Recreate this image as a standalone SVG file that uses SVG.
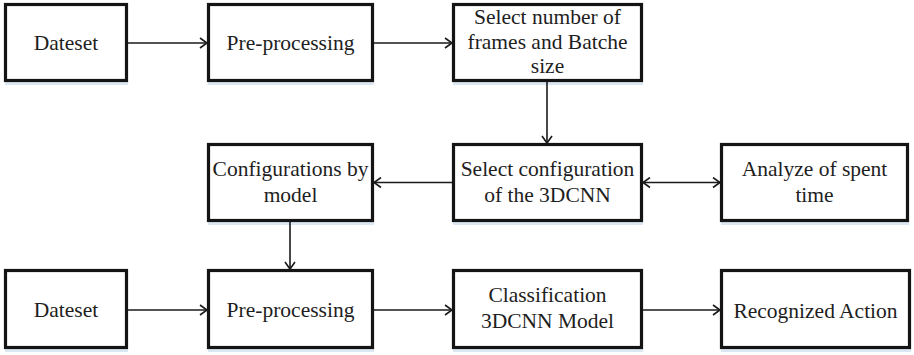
<svg xmlns="http://www.w3.org/2000/svg" width="914" height="355" viewBox="0 0 914 355">
  <style>
    .box { fill: #ffffff; stroke: #141414; stroke-width: 3.2; }
    .shadow { fill: #dbe7f2; stroke: none; }
    .label { font-family: "Liberation Serif", "Times New Roman", serif; font-size: 21.5px; fill: #1e1e1e; text-anchor: middle; }
    .edge { fill: none; stroke: #1a1a1a; stroke-width: 1.6; }
  </style>
  <defs>
    <marker id="arrow" markerUnits="userSpaceOnUse" markerWidth="12" markerHeight="12" viewBox="-10 -6 12 12" refX="0" refY="0" orient="auto-start-reverse">
      <path d="M-7,-5 L0,0 L-7,5" fill="none" stroke="#1a1a1a" stroke-width="1.6"/>
    </marker>
  </defs>
  <rect width="914" height="355" fill="#ffffff"/>

  <!-- Row 1 -->
  <g id="dataset-top">
    <rect class="shadow" x="5" y="81" width="123" height="4"/>
    <rect class="box" x="5.5" y="4.5" width="121" height="76"/>
    <text class="label" x="66" y="50">Dateset</text>
  </g>
  <g id="preprocessing-top">
    <rect class="shadow" x="208" y="81" width="166" height="4"/>
    <rect class="box" x="208.5" y="4.5" width="164" height="76"/>
    <text class="label" x="290.5" y="50">Pre-processing</text>
  </g>
  <g id="select-frames">
    <rect class="shadow" x="453" y="81" width="190" height="4"/>
    <rect class="box" x="453.5" y="4.5" width="188" height="76"/>
    <text class="label" x="547.5" y="24">Select number of</text>
    <text class="label" x="547.5" y="49">frames and Batche</text>
    <text class="label" x="547.5" y="73">size</text>
  </g>

  <!-- Row 2 -->
  <g id="configurations">
    <rect class="shadow" x="208" y="221" width="166" height="4"/>
    <rect class="box" x="208.5" y="144.5" width="164" height="76"/>
    <text class="label" x="290.5" y="176">Configurations by</text>
    <text class="label" x="290.5" y="202">model</text>
  </g>
  <g id="select-config">
    <rect class="shadow" x="453" y="221" width="190" height="4"/>
    <rect class="box" x="453.5" y="144.5" width="188" height="76"/>
    <text class="label" x="547.5" y="176">Select configuration</text>
    <text class="label" x="547.5" y="202">of the 3DCNN</text>
  </g>
  <g id="analyze-time">
    <rect class="shadow" x="721" y="221" width="188" height="4"/>
    <rect class="box" x="721.5" y="144.5" width="186" height="76"/>
    <text class="label" x="814.5" y="176">Analyze of spent</text>
    <text class="label" x="814.5" y="202">time</text>
  </g>

  <!-- Row 3 -->
  <g id="dataset-bottom">
    <rect class="shadow" x="5" y="348" width="123" height="4"/>
    <rect class="box" x="5.5" y="270.5" width="121" height="77"/>
    <text class="label" x="66" y="317">Dateset</text>
  </g>
  <g id="preprocessing-bottom">
    <rect class="shadow" x="208" y="348" width="166" height="4"/>
    <rect class="box" x="208.5" y="270.5" width="164" height="77"/>
    <text class="label" x="290.5" y="317">Pre-processing</text>
  </g>
  <g id="classification">
    <rect class="shadow" x="453" y="348" width="190" height="4"/>
    <rect class="box" x="453.5" y="270.5" width="188" height="77"/>
    <text class="label" x="547.5" y="302">Classification</text>
    <text class="label" x="547.5" y="328">3DCNN Model</text>
  </g>
  <g id="recognized-action">
    <rect class="shadow" x="721" y="348" width="190" height="4"/>
    <rect class="box" x="721.5" y="270.5" width="188" height="77"/>
    <text class="label" x="815.5" y="318">Recognized Action</text>
  </g>

  <!-- Connectors -->
  <g id="connectors">
    <line class="edge" x1="128" y1="43" x2="207" y2="43" marker-end="url(#arrow)"/>
    <line class="edge" x1="374" y1="43" x2="452" y2="43" marker-end="url(#arrow)"/>
    <line class="edge" x1="547" y1="82" x2="547" y2="143" marker-end="url(#arrow)"/>
    <line class="edge" x1="452" y1="182.5" x2="374" y2="182.5" marker-end="url(#arrow)"/>
    <line class="edge" x1="643" y1="182.5" x2="720" y2="182.5" marker-start="url(#arrow)" marker-end="url(#arrow)"/>
    <line class="edge" x1="290" y1="222" x2="290" y2="269" marker-end="url(#arrow)"/>
    <line class="edge" x1="128" y1="310" x2="207" y2="310" marker-end="url(#arrow)"/>
    <line class="edge" x1="374" y1="310" x2="452" y2="310" marker-end="url(#arrow)"/>
    <line class="edge" x1="643" y1="310" x2="720" y2="310" marker-end="url(#arrow)"/>
  </g>
</svg>
